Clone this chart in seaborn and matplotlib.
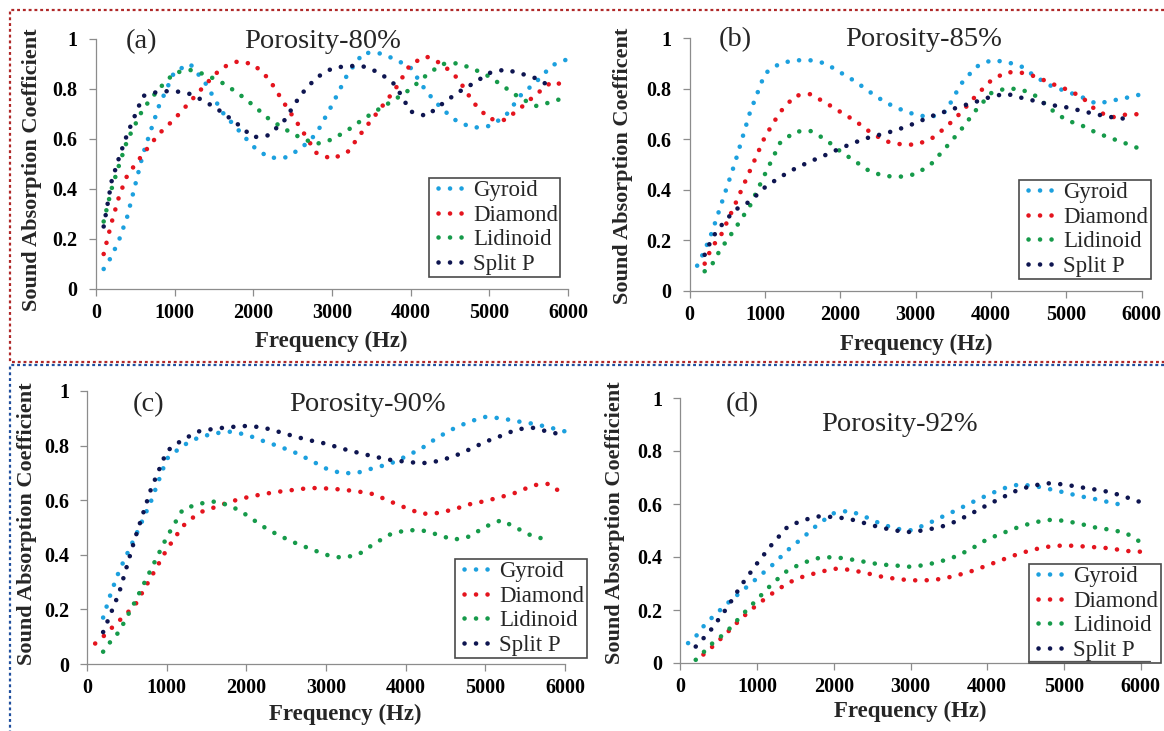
import numpy as np
import pandas as pd
import matplotlib
matplotlib.use("Agg")
import matplotlib.pyplot as plt
import seaborn as sns
from matplotlib.lines import Line2D

N = np.nan

FREQ = [100, 200, 300, 400, 600, 800, 1000, 1200, 1400, 1600, 1800, 2000, 2200, 2400,
        2600, 2800, 3000, 3200, 3400, 3600, 3800, 4000, 4200, 4400, 4600, 4800, 5000,
        5200, 5400, 5600, 5800, 6000]

SERIES = ["Gyroid", "Diamond", "Lidinoid", "Split P"]
COLORS = ["#1ca0de", "#e4141e", "#169a4a", "#0e1550"]

# ---- (a) Porosity-80% ----
A_GYROID = [.08, .13, .20, .29, .54, .73, .87, .90, .82, .71, .64, .57, .525, .525, .56, .62,
            .735, .86, .945, .943, .92, .885, .79, .72, .668, .645, .652, .69, .775, .83, .895, .92]
A_DIAMOND = [.14, .265, .375, .455, .54, .62, .68, .75, .82, .885, .91, .90, .84, .74, .645, .545,
             .52, .548, .635, .715, .797, .90, .93, .90, .842, .745, .68, .676, .725, .78, .83, .81]
A_LIDINOID = [.27, .40, .50, .595, .72, .80, .865, .876, .857, .826, .785, .735, .68, .64, .605, .58,
              .598, .635, .68, .72, .758, .80, .855, .90, .903, .88, .85, .806, .762, .732, .749, .77]
A_SPLITP = [.25, .43, .53, .62, .772, .79, .792, .78, .748, .708, .66, .607, .615, .676, .775, .845,
            .882, .893, .89, .866, .818, .71, .692, .74, .786, .823, .864, .878, .862, .842, .806, N]

# ---- (b) Porosity-85% ----
B_GYROID = [.10, .16, .235, .325, .505, .705, .86, .90, .912, .912, .90, .864, .828, .785, .745, .718,
            .696, .687, .71, .818, .886, .912, .906, .888, .845, .81, .789, .767, .74, .752, .764, .778]
B_DIAMOND = [N, .108, .177, .21, .34, .475, .61, .707, .772, .778, .745, .708, .672, .627, .592, .58,
             .578, .60, .647, .705, .772, .832, .865, .863, .847, .82, .797, .768, .712, .686, .698, .699]
B_LIDINOID = [N, .078, .106, .16, .245, .336, .462, .585, .63, .633, .60, .552, .512, .471, .454, .452,
              .462, .50, .567, .637, .715, .782, .801, .797, .77, .717, .675, .655, .625, .603, .582, .559]
B_SPLITP = [N, .143, .21, .252, .32, .354, .41, .45, .484, .512, .537, .564, .588, .609, .623, .642,
            .664, .69, .71, .73, .748, .768, .78, .764, .75, .735, .726, .712, .698, .687, .68, N]

# ---- (c) Porosity-90% ----
C_GYROID = [N, .17, .262, .34, .465, .595, .752, .80, .83, .845, .851, .84, .818, .798, .776, .747,
            .716, .698, .701, .718, .733, .76, .79, .83, .862, .888, .905, .90, .889, .88, .867, .852]
C_DIAMOND = [.075, .10, .13, .158, .215, .317, .42, .505, .554, .574, .595, .61, .622, .631, .638, .645,
             .643, .639, .632, .622, .596, .572, .55, .553, .566, .585, .597, .612, .629, .655, .66, .617]
C_LIDINOID = [N, .045, .085, .118, .228, .346, .465, .566, .587, .595, .58, .546, .505, .472, .445, .422,
              .40, .389, .40, .44, .474, .49, .49, .474, .455, .467, .503, .527, .497, .467, .455, N]
C_SPLITP = [N, .117, .188, .26, .46, .64, .78, .822, .852, .862, .868, .872, .867, .851, .834, .819,
            .807, .789, .774, .76, .748, .741, .735, .743, .76, .786, .814, .836, .86, .865, .85, .838]

# ---- (d) Porosity-92% ----
D_GYROID = [.075, .10, .138, .168, .222, .271, .32, .37, .426, .474, .525, .565, .575, .553, .527, .507,
            .501, .522, .55, .577, .606, .633, .658, .673, .669, .657, .644, .63, .619, .606, .594, N]
D_DIAMOND = [N, N, .032, .057, .112, .17, .22, .263, .302, .326, .342, .356, .352, .341, .327, .318,
             .312, .312, .317, .33, .347, .368, .39, .411, .428, .439, .444, .441, .437, .433, .423, .42]
D_LIDINOID = [N, .012, .04, .07, .117, .18, .24, .30, .35, .378, .396, .40, .392, .382, .372, .368,
              .363, .37, .384, .403, .432, .467, .49, .512, .53, .54, .537, .526, .512, .503, .492, .456]
D_SPLITP = [N, .062, .093, .126, .205, .296, .376, .45, .515, .539, .553, .551, .544, .528, .512, .50,
            .494, .502, .514, .535, .565, .596, .625, .653, .67, .678, .674, .664, .655, .645, .627, .607]

TAGS = ["(a)", "(b)", "(c)", "(d)"]
TITLES = ["Porosity-80%", "Porosity-85%", "Porosity-90%", "Porosity-92%"]
YLABELS = ["Sound Absorption Coefficient", "Sound Absorption Coefficent",
           "Sound Absorption Coefficient", "Sound Absorption Coefficient"]
XLABEL = "Frequency (Hz)"
XTICKS = [0, 1000, 2000, 3000, 4000, 5000, 6000]
YTICKS = [0, 0.2, 0.4, 0.6, 0.8, 1.0]
YTICKLABELS = ["0", "0.2", "0.4", "0.6", "0.8", "1"]
PANEL_DATA = [
    [A_GYROID, A_DIAMOND, A_LIDINOID, A_SPLITP],
    [B_GYROID, B_DIAMOND, B_LIDINOID, B_SPLITP],
    [C_GYROID, C_DIAMOND, C_LIDINOID, C_SPLITP],
    [D_GYROID, D_DIAMOND, D_LIDINOID, D_SPLITP],
]

# ---- layout (pixels) ----
W, H = 1164, 731
AX_BOX = [(95.8, 39, 568, 289), (689.6, 38, 1141.8, 291),
          (87.2, 391, 565, 664), (680.4, 398, 1140.6, 663)]
TAG_POS = [(141.6, 48), (735, 46.5), (149, 411), (742, 411)]
TITLE_POS = [(322.6, 48), (924, 46.5), (367.5, 411), (899, 431)]
YLAB_POS = [(32.5, 169.5), (623, 166), (27, 524), (615, 523)]
XLAB_POS = [(331.5, 347.5), (916, 350), (345.6, 720), (910.5, 716.5)]
LEG_POS = [(428.7, 178), (1019, 180), (455, 559), (1029, 564)]

sns.set_theme(style="white")
plt.rcParams["font.family"] = ["Liberation Serif", "DejaVu Serif"]


def fx(px):
    return px / W


def fy(py):
    return 1 - py / H


fig = plt.figure(figsize=(W / 100, H / 100), dpi=100)
fig.patch.set_facecolor("white")

DOT_LS = (0, (0.01, 2.5))
LEG_LS = (0.98, (0.01, 2.5))
LW = 3.3
SPINE = "#8c8c8c"

for i in range(4):
    l, t, r, b = AX_BOX[i]
    ax = fig.add_axes([fx(l), fy(b), (r - l) / W, (b - t) / H])
    vals, names, freqs = [], [], []
    for name, ser in zip(SERIES, PANEL_DATA[i]):
        vals += list(ser)
        names += [name] * len(ser)
        freqs += FREQ
    df = pd.DataFrame({"Frequency": freqs, "Value": vals, "Series": names}).dropna()
    sns.lineplot(data=df, x="Frequency", y="Value", hue="Series", hue_order=SERIES,
                 palette=COLORS, ax=ax, legend=False, estimator=None, sort=False,
                 linewidth=LW, linestyle=DOT_LS, dash_capstyle="round")
    ax.set_xlim(0, 6000)
    ax.set_ylim(0, 1)
    ax.set_xticks(XTICKS)
    ax.set_xticklabels([str(v) for v in XTICKS], fontweight="bold", fontsize=14.5)
    ax.set_yticks(YTICKS)
    ax.set_yticklabels(YTICKLABELS, fontweight="bold", fontsize=14.5)
    ax.set_xlabel("")
    ax.set_ylabel("")
    ax.set_facecolor("none")
    for s in ["top", "right"]:
        ax.spines[s].set_visible(False)
    for s in ["left", "bottom"]:
        ax.spines[s].set_color(SPINE)
        ax.spines[s].set_linewidth(0.9)
    ax.tick_params(axis="x", direction="out", length=5, width=0.9, color=SPINE, pad=5,
                   bottom=True, labelcolor="black")
    ax.tick_params(axis="y", direction="out", length=5, width=0.9, color=SPINE, pad=8,
                   left=True, labelcolor="black")
    ax.grid(False)
    for line in ax.lines:
        line.set_clip_on(False)

    handles = [Line2D([], [], color=c, lw=LW, linestyle=LEG_LS, dash_capstyle="round")
               for c in COLORS]
    lx, ly = LEG_POS[i]
    leg = ax.legend(handles, SERIES, loc="upper left", bbox_to_anchor=(fx(lx), fy(ly)),
                    bbox_transform=fig.transFigure, prop={"size": 16.5},
                    handlelength=1.4, handletextpad=0.44, labelspacing=0.15,
                    borderpad=0.1, borderaxespad=0, fancybox=False, framealpha=1,
                    edgecolor="#4a4a4a")
    leg.get_frame().set_linewidth(1.2)

    tx, ty = TAG_POS[i]
    fig.text(fx(tx), fy(ty), TAGS[i], ha="center", va="baseline", fontsize=20.5)
    tx, ty = TITLE_POS[i]
    fig.text(fx(tx), fy(ty), TITLES[i], ha="center", va="baseline", fontsize=20.5)
    tx, ty = YLAB_POS[i]
    fig.text(fx(tx), fy(ty), YLABELS[i], ha="center", va="center", rotation=90,
             fontsize=16, fontweight="bold")
    tx, ty = XLAB_POS[i]
    fig.text(fx(tx), fy(ty), XLABEL, ha="center", va="baseline",
             fontsize=16.5, fontweight="bold")

# dotted separator frames
red_x = [W, 10.5, 10.5, W]
red_y = [9.5, 9.5, 361.5, 361.5]
fig.add_artist(Line2D([fx(v) for v in red_x], [fy(v) for v in red_y], color="#b02828",
                      lw=1.6, linestyle=(0, (1.3, 1.3)), transform=fig.transFigure))
blue_x = [W, 10.5, 10.5]
blue_y = [365, 365, H]
fig.add_artist(Line2D([fx(v) for v in blue_x], [fy(v) for v in blue_y], color="#1f4f9e",
                      lw=1.6, linestyle=(0, (1.3, 1.3)), transform=fig.transFigure))
# stray rule below legend (d)
fig.add_artist(Line2D([fx(1028), fx(1150)], [fy(661), fy(661)], color="#555555",
                      lw=0.9, transform=fig.transFigure))

fig.savefig("out.png", dpi=100, facecolor="white")
